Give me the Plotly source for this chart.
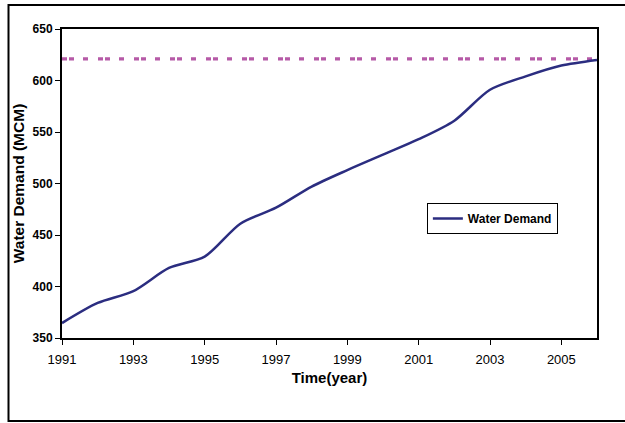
import plotly.graph_objects as go

# Annual water demand (million cubic metres)
years = [1991, 1992, 1993, 1994, 1995, 1996, 1997, 1998, 1999, 2000,
         2001, 2002, 2003, 2004, 2005, 2006]
demand = [364.5, 384, 395.5, 418, 429, 461, 476.5, 497, 513, 528,
          543, 561, 591, 604, 614.5, 620]

# Available supply limit
limit_value = 621
limit_years = [1991, 2006]

x_ticks = [1991, 1993, 1995, 1997, 1999, 2001, 2003, 2005]
y_ticks = [350, 400, 450, 500, 550, 600, 650]

FONT = "Liberation Sans, Arial, sans-serif"

fig = go.Figure()

fig.add_trace(go.Scatter(
    x=limit_years, y=[limit_value] * len(limit_years),
    mode="lines",
    line=dict(color="#b65aa7", width=3.2, dash="5px,2px,5px,9px,5px,10px"),
    showlegend=False, hoverinfo="skip",
))

fig.add_trace(go.Scatter(
    x=years, y=demand,
    mode="lines",
    name="Water Demand",
    line=dict(color="#2b2d80", width=2.5, shape="spline", smoothing=0.8),
))

# outer chart frame (right edge runs past the canvas)
fig.add_shape(
    type="rect", xref="paper", yref="paper",
    x0=-0.1, x1=1.07, y0=-0.2686, y1=1.0777,
    line=dict(color="black", width=2), fillcolor="rgba(0,0,0,0)",
    layer="below",
)

fig.update_layout(
    width=625, height=423,
    margin=dict(l=62, r=28, t=29, b=85),
    paper_bgcolor="white", plot_bgcolor="white",
    font=dict(family=FONT, color="black", size=12),
    legend=dict(
        x=0.682, y=0.437, xanchor="left", yanchor="top",
        bordercolor="black", borderwidth=1, bgcolor="white",
        font=dict(family=FONT, size=12, color="black", weight="bold"),
        itemwidth=30, tracegroupgap=0,
    ),
    xaxis=dict(
        range=[1991, 2006], tickmode="array", tickvals=x_ticks,
        ticks="outside", ticklen=5, tickwidth=1, tickcolor="black",
        ticklabelstandoff=3,
        showgrid=False, zeroline=False,
        showline=True, linecolor="black", linewidth=2, mirror=True,
        tickfont=dict(family=FONT, size=13, color="black"),
        title=dict(text="Time(year)", standoff=7,
                   font=dict(family=FONT, size=15, color="black", weight="bold")),
    ),
    yaxis=dict(
        range=[350, 650], tickmode="array", tickvals=y_ticks,
        ticks="outside", ticklen=5, tickwidth=1, tickcolor="black",
        showgrid=False, zeroline=False,
        showline=True, linecolor="black", linewidth=2, mirror=True,
        tickfont=dict(family=FONT, size=12, color="black", weight="bold"),
        title=dict(text="Water Demand (MCM)", standoff=4,
                   font=dict(family=FONT, size=15.5, color="black", weight="bold")),
    ),
)

fig.write_html("out.html")
